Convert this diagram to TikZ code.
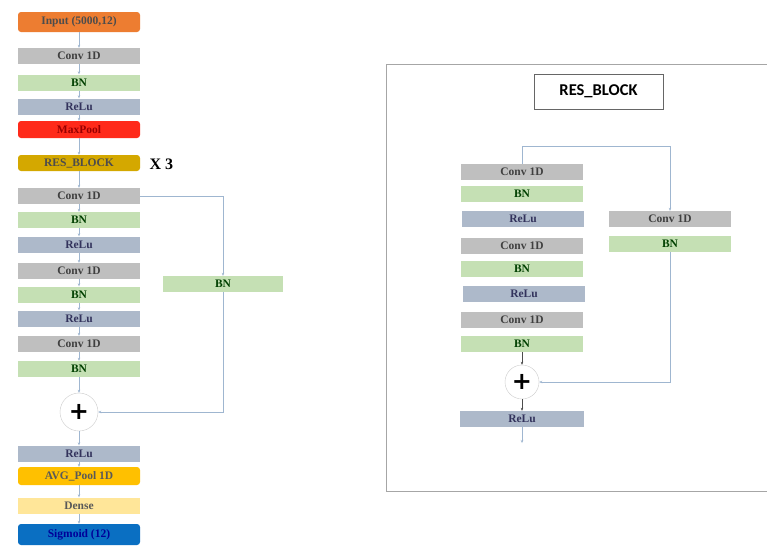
\documentclass[tikz,border=0pt]{standalone}
\usepackage{fontspec}
\setmainfont{Liberation Serif}
\newfontfamily\titlefont{Carlito}
\newfontfamily\plusfont{DejaVu Sans}
\usetikzlibrary{arrows.meta}
\definecolor{cOrange}{HTML}{ED7D31}
\definecolor{cGray}{HTML}{BFBFBF}
\definecolor{cGreen}{HTML}{C5E0B4}
\definecolor{cBlue}{HTML}{ADB9CA}
\definecolor{cRed}{HTML}{FF2A1A}
\definecolor{cGold}{HTML}{D4A800}
\definecolor{cAmber}{HTML}{FFC000}
\definecolor{cPale}{HTML}{FFE699}
\definecolor{cNavy}{HTML}{0A6FC2}
\definecolor{cLine}{HTML}{9FB6D0}
\begin{document}
\begin{tikzpicture}[x=1pt,y=-1pt,
  blk/.style={minimum width=122pt,minimum height=16pt,inner sep=0pt,font=\bfseries\fontsize{11.5}{12}\selectfont,text=black!75},
  rblk/.style={blk,rounded corners=3pt},
  conv/.style={blk,fill=cGray},
  bn/.style={blk,fill=cGreen,text=green!25!black},
  relu/.style={blk,fill=cBlue,text=blue!20!black!80},
  sumc/.style={circle,draw=black!20,minimum size=38pt,inner sep=0pt,font=\plusfont\bfseries\fontsize{24}{24}\selectfont},
  arr/.style={draw=cLine,line width=0.5pt,-{Stealth[length=3pt,width=2.5pt]}},
  skipline/.style={draw=cLine,line width=0.6pt}
]
\useasboundingbox (0,0) rectangle (767,547);
\fill[white] (0,0) rectangle (767,547);
% ---------- left column ----------
\node[rblk,fill=cOrange,minimum height=20pt,text=black!70] (in) at (79,22) {Input (5000,12)};
\node[conv] (c1) at (79,56) {Conv 1D};
\node[bn] (b1) at (79,82.5) {BN};
\node[relu] (r1) at (79,106.5) {ReLu};
\node[rblk,fill=cRed,minimum height=17pt,text=red!60!black] (mp) at (79,129.5) {MaxPool};
\node[rblk,fill=cGold,text=black!70] (rb) at (79,163) {RES\_BLOCK};
\node[font=\bfseries\fontsize{16}{16}\selectfont,anchor=west] (x3) at (146,164) {X 3};
\node[conv] (c2) at (79,196) {Conv 1D};
\node[bn] (b2) at (79,220) {BN};
\node[relu] (r2) at (79,244.5) {ReLu};
\node[conv] (c3) at (79,271) {Conv 1D};
\node[bn] (b3) at (79,294.5) {BN};
\node[relu] (r3) at (79,318.5) {ReLu};
\node[conv] (c4) at (79,344) {Conv 1D};
\node[bn] (b4) at (79,369) {BN};
\node[sumc] (s1) at (79,412) {+};
\node[relu] (r4) at (79,453.5) {ReLu};
\node[rblk,fill=cAmber,minimum height=18pt,text=black!65] (ap) at (79,476) {AVG\_Pool 1D};
\node[blk,fill=cPale,text=black!65] (de) at (79,505.5) {Dense};
\node[rblk,fill=cNavy,minimum height=21pt,text=blue!60!black] (sg) at (79,534.5) {Sigmoid (12)};
\node[bn,minimum width=120pt] (bs) at (223,284) {BN};
\foreach \a/\b in {in/c1,c1/b1,b1/r1,r1/mp,mp/rb,rb/c2,c2/b2,b2/r2,r2/c3,c3/b3,b3/r3,r3/c4,c4/b4,b4/s1,s1/r4,r4/ap,ap/de,de/sg}
  \draw[arr] (\a.south) -- (\b.north);
\draw[arr] (c2.east) -| (bs.north);
\draw[arr] (bs.south) |- (s1.east);
% ---------- right panel ----------
\draw[black!35,line width=1pt] (386,64) rectangle (772,491);
\node[draw=black!60,line width=0.8pt,minimum width=129pt,minimum height=35pt,font=\titlefont\bfseries\fontsize{16.5}{18}\selectfont] (title) at (598.5,91.5) {RES\_BLOCK};
\coordinate (top) at (522,146);
\node[conv] (k1) at (522,172) {Conv 1D};
\node[bn] (n1) at (522,193.5) {BN};
\node[relu] (u1) at (523,219) {ReLu};
\node[conv] (k2) at (522,245.5) {Conv 1D};
\node[bn] (n2) at (522,269) {BN};
\node[relu] (u2) at (524,294) {ReLu};
\node[conv] (k3) at (522,320) {Conv 1D};
\node[bn] (n3) at (522,344) {BN};
\node[sumc,minimum size=34pt] (s2) at (522,382) {+};
\node[relu,minimum width=124pt] (u3) at (522,419) {ReLu};
\coordinate (out) at (522,443);
\node[conv] (k4) at (670,219) {Conv 1D};
\node[bn] (n4) at (670,244) {BN};
\draw[arr] (k1.north) |- (670,146) -- (k4.north);
\draw[skipline] (top) -- (k1.north);
\draw[arr] (n4.south) |- (s2.east);
\draw[arr,draw=black!70] (n3.south) -- (s2.north);
\draw[arr,draw=black!70] (s2.south) -- (u3.north);
\draw[arr] (u3.south) -- (out);
\end{tikzpicture}
\end{document}
